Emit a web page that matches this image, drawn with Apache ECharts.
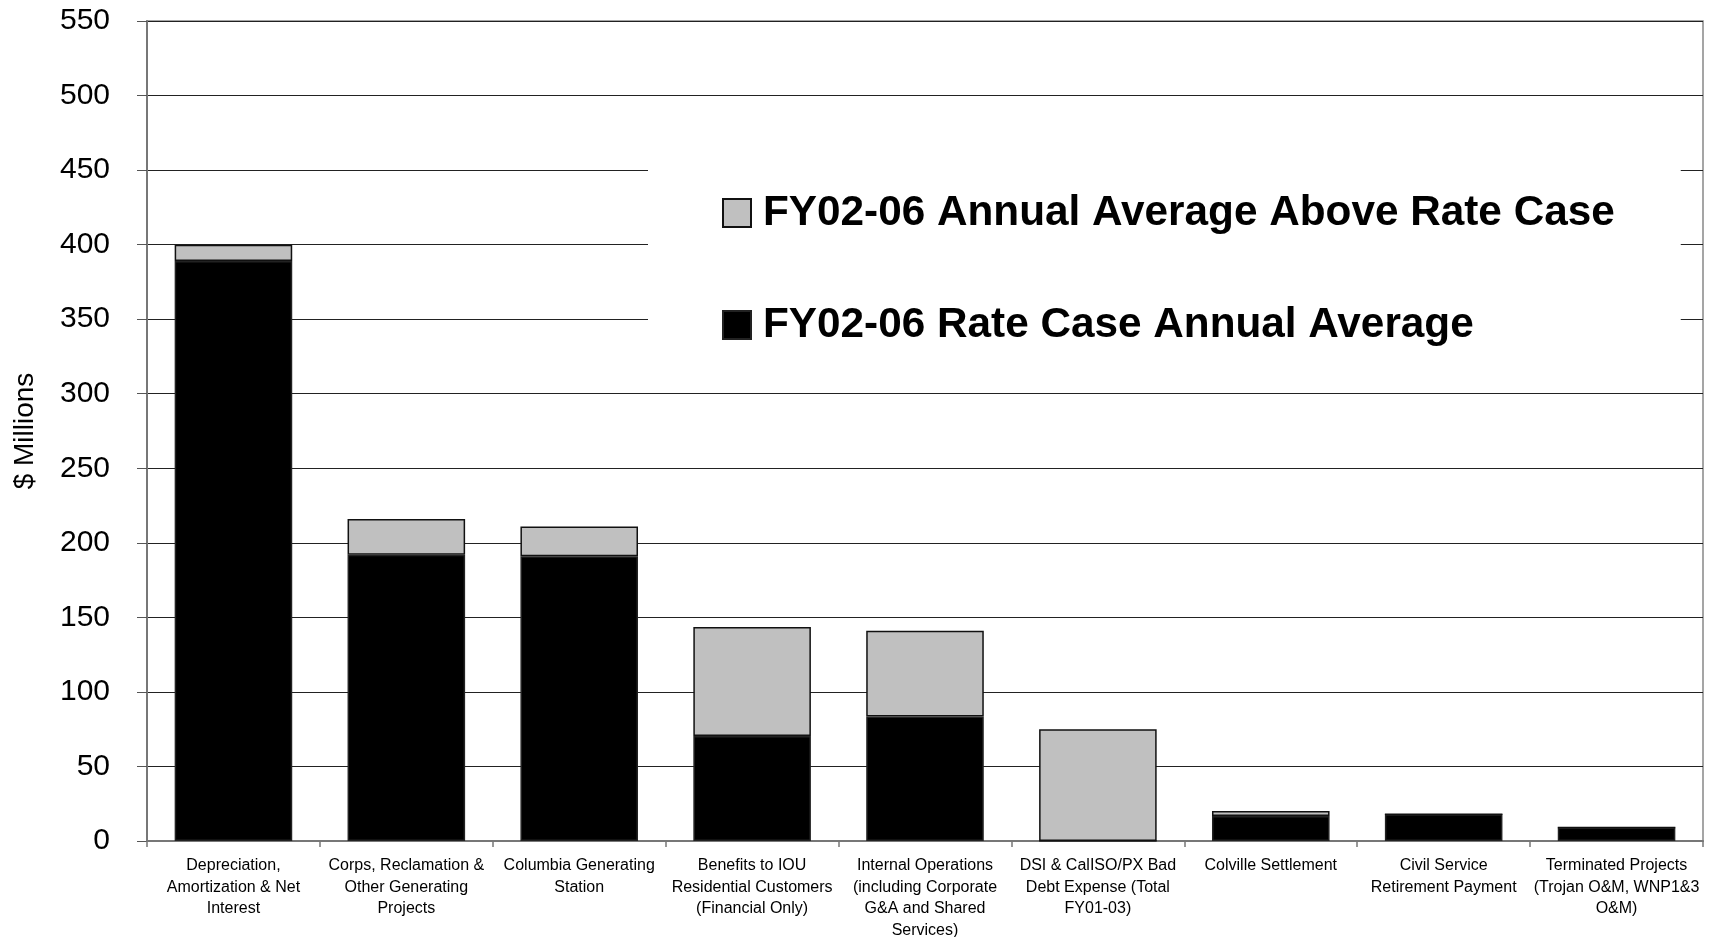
<!DOCTYPE html>
<html>
<head>
<meta charset="utf-8">
<script src="https://cdn.jsdelivr.net/npm/echarts@6/dist/echarts.min.js"></script>
<style>
html,body{margin:0;padding:0;background:#fff;}
#c{width:1711px;height:937px;}
</style>
</head>
<body>
<div id="c"></div>
<script>
const categories = [
  "Depreciation,\nAmortization & Net\nInterest",
  "Corps, Reclamation &\nOther Generating\nProjects",
  "Columbia Generating\nStation",
  "Benefits to IOU\nResidential Customers\n(Financial Only)",
  "Internal Operations\n(including Corporate\nG&A and Shared\nServices)",
  "DSI & CalISO/PX Bad\nDebt Expense (Total\nFY01-03)",
  "Colville Settlement",
  "Civil Service\nRetirement Payment",
  "Terminated Projects\n(Trojan O&M, WNP1&3\nO&M)"
];
const rateCaseAvg = [389, 192, 191, 70.5, 83.5, 0, 16.8, 18, 9];
const aboveRateCase = [11, 24, 20, 73, 57.5, 75, 3.3, 0, 0];
const seriesNames = ["FY02-06 Annual Average Above Rate Case", "FY02-06 Rate Case Annual Average"];
const yTicks = { min: 0, max: 550, interval: 50 };

const chart = echarts.init(document.getElementById('c'));
const font = "'Liberation Sans', Arial, sans-serif";
chart.setOption({
  animation: false,
  backgroundColor: '#fff',
  grid: { left: 147, right: 8, top: 21, bottom: 96, outerBoundsMode: 'none', containLabel: false, show: true, borderColor: '#888', borderWidth: 1.5, backgroundColor: 'transparent' },
  legend: {
    data: seriesNames,
    orient: 'vertical',
    left: 648,
    top: 140,
    padding: [51, 66, 24, 74],
    backgroundColor: '#fff',
    itemWidth: 28,
    itemHeight: 28,
    itemGap: 68,
    icon: 'rect',
    textStyle: { fontFamily: font, fontSize: 42.3, fontWeight: 'bold', color: '#000', lineHeight: 44, padding: [0, 0, 0, 7] }
  },
  xAxis: {
    type: 'category',
    data: categories,
    axisLine: { lineStyle: { color: '#777', width: 2 } },
    axisTick: { show: true, length: 6, lineStyle: { color: '#777', width: 1.5 } },
    axisLabel: { interval: 0, fontFamily: font, fontSize: 16, color: '#000', lineHeight: 21.5, margin: 14 }
  },
  yAxis: {
    type: 'value',
    min: yTicks.min, max: yTicks.max, interval: yTicks.interval,
    name: '$ Millions',
    nameLocation: 'middle',
    nameGap: 108,
    nameTextStyle: { fontFamily: font, fontSize: 28, color: '#000' },
    axisLine: { show: true, lineStyle: { color: '#777', width: 2 } },
    axisTick: { show: true, length: 10, lineStyle: { color: '#555', width: 1 } },
    axisLabel: { fontFamily: font, fontSize: 30, color: '#000', margin: 37 },
    splitLine: { lineStyle: { color: '#222', width: 1 } }
  },
  series: [
    {
      name: seriesNames[1], type: 'bar', stack: 'total', data: rateCaseAvg,
      barCategoryGap: '32%',
      itemStyle: { color: '#000', borderColor: '#222', borderWidth: 1.5 }
    },
    {
      name: seriesNames[0], type: 'bar', stack: 'total', data: aboveRateCase,
      barCategoryGap: '32%',
      itemStyle: { color: '#c0c0c0', borderColor: '#111', borderWidth: 1.5 }
    }
  ]
});
</script>
</body>
</html>
